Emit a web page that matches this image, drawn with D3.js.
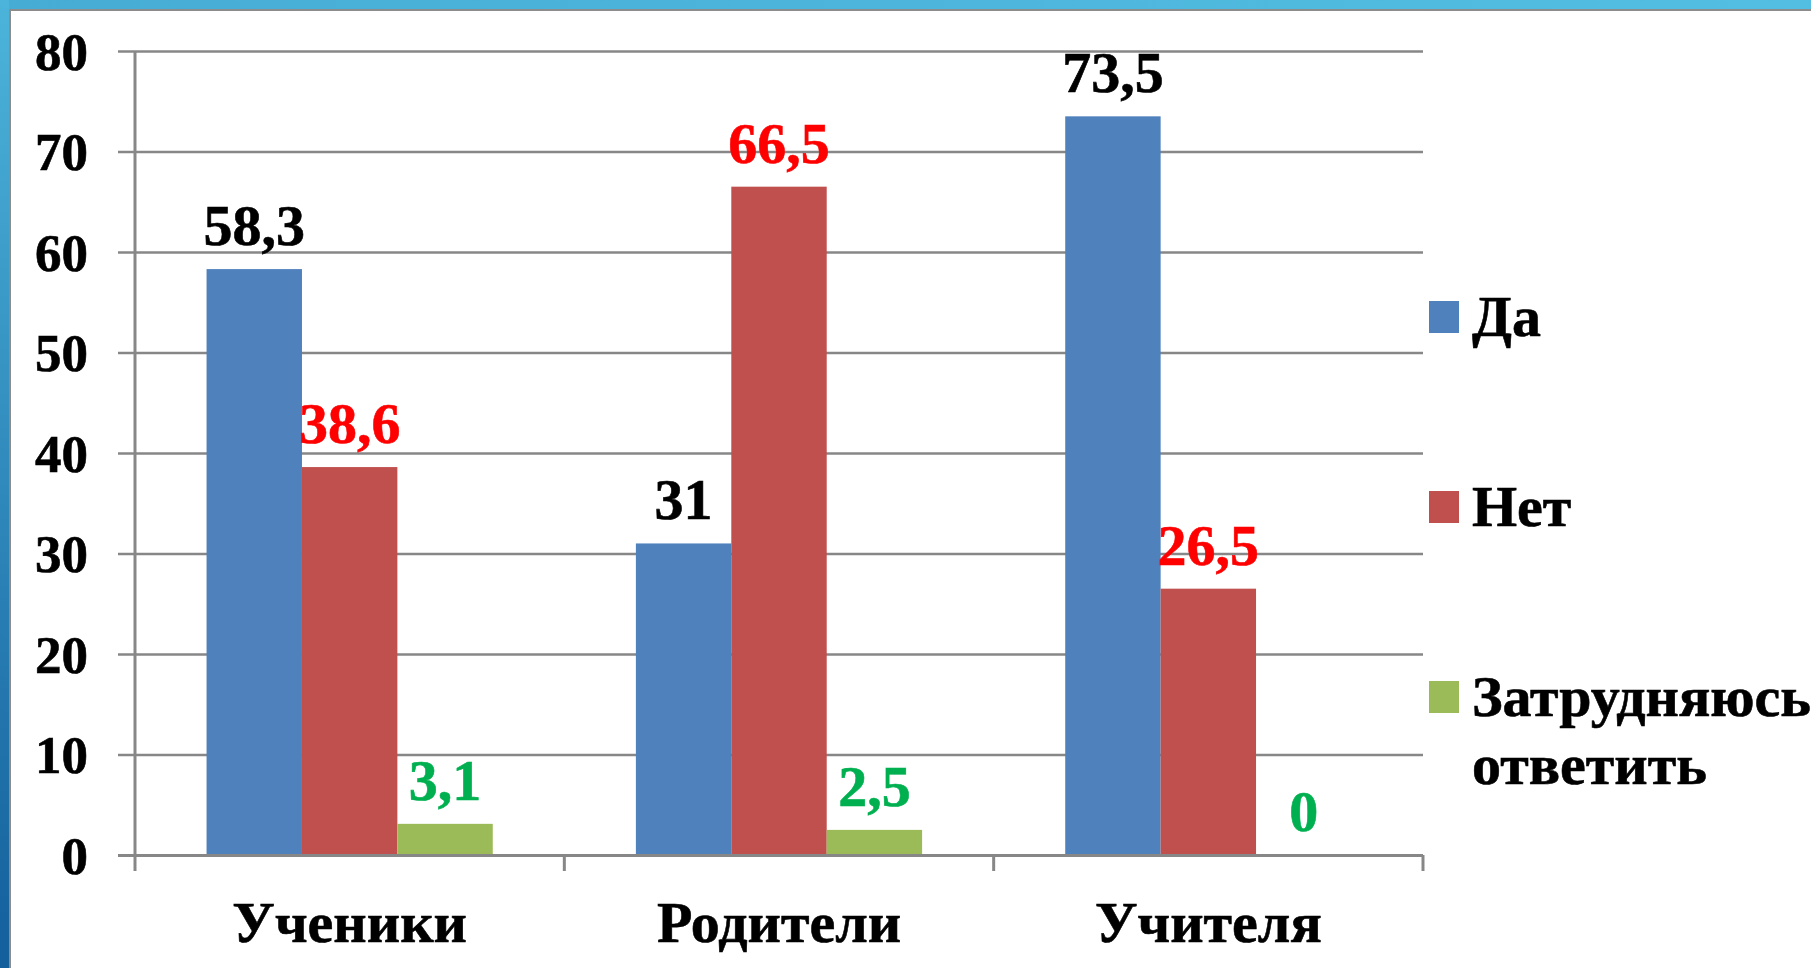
<!DOCTYPE html>
<html>
<head>
<meta charset="utf-8">
<script src="https://cdn.jsdelivr.net/npm/d3@7"></script>
<style>
  html, body { margin: 0; padding: 0; background: #fff; }
  svg { display: block; }
</style>
</head>
<body>
<script>
const categories = ["Ученики", "Родители", "Учителя"];
const seriesNames = ["Да", "Нет", "Затрудняюсь ответить"];
const yesValues = [58.3, 31, 73.5];
const noValues = [38.6, 66.5, 26.5];
const unsureValues = [3.1, 2.5, 0];
const yTicks = [0, 10, 20, 30, 40, 50, 60, 70, 80];

const barColors = ["#4f81bd", "#c0504d", "#9bbb59"];
const labelColors = ["#000000", "#ff0000", "#00b050"];

const width = 1811;
const height = 968;
const serif = '"Liberation Serif", "Times New Roman", serif';

const series = [yesValues, noValues, unsureValues];

const svg = d3.select("body").append("svg")
  .attr("width", width)
  .attr("height", height)
  .style("font-family", serif)
  .style("font-weight", "bold");

// frame of the slide
const defs = svg.append("defs");
const grad = defs.append("linearGradient").attr("id", "sideGrad")
  .attr("x1", 0).attr("y1", 0).attr("x2", 0).attr("y2", 1);
grad.append("stop").attr("offset", "0%").attr("stop-color", "#4cb4da");
grad.append("stop").attr("offset", "100%").attr("stop-color", "#135f9c");
const topGrad = defs.append("linearGradient").attr("id", "topGrad")
  .attr("x1", 0).attr("y1", 0).attr("x2", 1).attr("y2", 0);
topGrad.append("stop").attr("offset", "0%").attr("stop-color", "#46acd4");
topGrad.append("stop").attr("offset", "100%").attr("stop-color", "#54bee2");

svg.append("rect").attr("x", 0).attr("y", 0).attr("width", width).attr("height", 9)
  .attr("fill", "url(#topGrad)");
svg.append("rect").attr("x", 0).attr("y", 0).attr("width", 9).attr("height", height)
  .attr("fill", "url(#sideGrad)");
svg.append("path")
  .attr("d", `M${width},10 H10 V${height}`)
  .attr("fill", "none")
  .attr("stroke", "#8c8c8c")
  .attr("stroke-width", 2);

const plotLeft = 135, plotRight = 1423, plotTop = 51, plotBottom = 855;

const x0 = d3.scaleBand().domain(categories).range([plotLeft, plotRight]);
const x1 = d3.scaleBand().domain(seriesNames).range([0, x0.bandwidth()])
  .paddingInner(0).paddingOuter(0.75);
const y = d3.scaleLinear().domain([0, 80]).range([plotBottom, plotTop]);

// gridlines + y axis ticks
const yAxis = d3.axisLeft(y).tickValues(yTicks).tickSize(-(plotRight - plotLeft)).tickFormat(d3.format("d"));
const gy = svg.append("g").attr("transform", `translate(${plotLeft},0)`).call(yAxis)
  .attr("font-family", null).attr("font-size", null);
gy.select(".domain").remove();
gy.selectAll(".tick line")
  .attr("x1", -17)
  .attr("stroke", "#878787")
  .attr("stroke-width", 2.5);
gy.selectAll(".tick text")
  .attr("x", -47)
  .attr("dy", "0.34em")
  .attr("fill", "#000")
  .attr("stroke", "#000")
  .attr("stroke-width", 0.6)
  .style("font-family", serif)
  .style("font-size", "53px");

// vertical axis line
svg.append("line")
  .attr("x1", plotLeft).attr("x2", plotLeft)
  .attr("y1", plotTop).attr("y2", plotBottom)
  .attr("stroke", "#878787").attr("stroke-width", 3);

// bars
const groups = svg.append("g").selectAll("g")
  .data(categories)
  .join("g")
  .attr("transform", d => `translate(${x0(d)},0)`);

groups.selectAll("rect")
  .data((c, ci) => seriesNames.map((s, si) => ({ s, si, v: series[si][ci] })))
  .join("rect")
  .attr("x", d => x1(d.s))
  .attr("width", x1.bandwidth())
  .attr("y", d => y(d.v))
  .attr("height", d => y(0) - y(d.v))
  .attr("fill", d => barColors[d.si]);

groups.selectAll("text")
  .data((c, ci) => seriesNames.map((s, si) => ({ s, si, v: series[si][ci] })))
  .join("text")
  .attr("x", d => x1(d.s) + x1.bandwidth() / 2)
  .attr("y", d => y(d.v) - 24)
  .attr("text-anchor", "middle")
  .attr("fill", d => labelColors[d.si])
  .attr("stroke", d => labelColors[d.si])
  .attr("stroke-width", 0.6)
  .style("font-family", serif)
  .style("font-size", "58px")
  .text(d => String(d.v).replace(".", ","));

// x axis
const xAxis = d3.axisBottom(x0).tickSize(0).tickPadding(0);
const gx = svg.append("g").attr("transform", `translate(0,${plotBottom})`).call(xAxis)
  .attr("font-family", null).attr("font-size", null);
gx.select(".domain")
  .attr("d", `M${plotLeft - 17},0.5H${plotRight}`)
  .attr("stroke", "#878787").attr("stroke-width", 3);
gx.selectAll(".tick text")
  .attr("y", 87)
  .attr("dy", 0)
  .attr("fill", "#000")
  .attr("stroke", "#000")
  .attr("stroke-width", 0.6)
  .style("font-family", serif)
  .style("font-size", "58px");

// category separator ticks
const sepTicks = [plotLeft].concat(categories.map(c => x0(c) + x0.bandwidth()));
svg.append("g").selectAll("line")
  .data(sepTicks)
  .join("line")
  .attr("x1", d => d).attr("x2", d => d)
  .attr("y1", plotBottom).attr("y2", plotBottom + 16)
  .attr("stroke", "#878787").attr("stroke-width", 3);

// legend
const legendY = [317, 507, 697];
const legend = svg.append("g").selectAll("g")
  .data(seriesNames)
  .join("g")
  .attr("transform", (d, i) => `translate(1429,${legendY[i]})`);
legend.append("rect")
  .attr("x", 0).attr("y", -16)
  .attr("width", 30).attr("height", 32)
  .attr("fill", (d, i) => barColors[i]);
legend.append("text")
  .attr("x", 43)
  .attr("y", 19)
  .attr("fill", "#000")
  .attr("stroke", "#000")
  .attr("stroke-width", 0.6)
  .style("font-family", serif)
  .style("font-size", "58px")
  .each(function (d) {
    const words = d.split(" ");
    const t = d3.select(this);
    words.forEach((w, wi) => {
      t.append("tspan").attr("x", 43).attr("dy", wi === 0 ? 0 : 68).text(w);
    });
  });
</script>
</body>
</html>
